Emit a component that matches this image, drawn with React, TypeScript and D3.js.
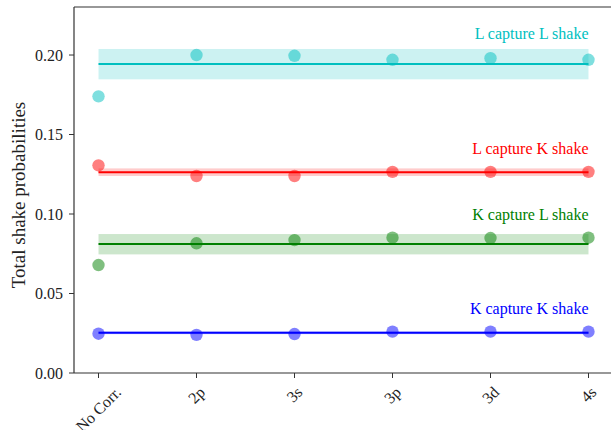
import React from "react";
import * as d3 from "d3";

const categories = ["No Corr.", "2p", "3s", "3p", "3d", "4s"];

const seriesNames = ["L capture L shake", "L capture K shake", "K capture L shake", "K capture K shake"];
const seriesColors = ["#00BFBF", "#FF0000", "#008000", "#0000FF"];
const llValues = [0.174, 0.200, 0.1995, 0.197, 0.198, 0.197];
const lkValues = [0.1306, 0.1239, 0.1239, 0.1265, 0.1265, 0.1265];
const klValues = [0.0679, 0.0816, 0.0836, 0.0851, 0.0849, 0.0851];
const kkValues = [0.0247, 0.0240, 0.0245, 0.0260, 0.0260, 0.0260];
const seriesValues = [llValues, lkValues, klValues, kkValues];
const meanValues = [0.1943, 0.1262, 0.0811, 0.0253];
const bandLow = [0.1847, 0.1239, 0.0746, 0.0244];
const bandHigh = [0.2038, 0.1287, 0.0874, 0.0262];
const labelValues = [0.2135, 0.1415, 0.0995, 0.0405];
const yTicks = [0, 0.05, 0.1, 0.15, 0.2];

function measure(text: string, size: number): number {
  try {
    const c = document.createElement("canvas").getContext("2d");
    if (c) {
      c.font = `${size}px 'Liberation Serif'`;
      return c.measureText(text).width;
    }
  } catch (e) {}
  return text.length * size * 0.45;
}

export default function App() {
  const W = 611, H = 430;
  const left = 74, right = 613, top = 7, bottom = 373;
  const x = d3.scaleLinear().domain([-0.25, 5.25]).range([left, right]);
  const y = d3.scaleLinear().domain([0, 0.2302]).range([bottom, top]);
  const font = "'Liberation Serif', 'DejaVu Serif', serif";
  const x0 = x(0), x5 = x(categories.length - 1);
  const tickFs = 16;
  const lineH = tickFs * 0.95;
  return (
    <svg width={W} height={H} style={{ position: "absolute", left: 0, top: 0, background: "#fff" }} fontFamily={font}>
      {seriesValues.map((vals, i) => (
        <g key={i}>
          <rect x={x0} width={x5 - x0} y={y(bandHigh[i])} height={y(bandLow[i]) - y(bandHigh[i])}
            fill={seriesColors[i]} fillOpacity={0.2} />
          {vals.map((v, j) => (
            <circle key={j} cx={x(j)} cy={y(v)} r={6.2} fill={seriesColors[i]} fillOpacity={0.5} />
          ))}
          <line x1={x0} x2={x5} y1={y(meanValues[i])} y2={y(meanValues[i])} stroke={seriesColors[i]} strokeWidth={2} />
          <text x={x5} y={y(labelValues[i])} textAnchor="end" dominantBaseline="central" fontSize={16} fill={seriesColors[i]}>
            {seriesNames[i]}
          </text>
        </g>
      ))}
      <line x1={left} x2={left} y1={top} y2={bottom} stroke="#333" strokeWidth={1.2} />
      <line x1={left} x2={right} y1={bottom} y2={bottom} stroke="#333" strokeWidth={1.2} />
      <line x1={left} x2={right} y1={top} y2={top} stroke="#333" strokeWidth={1.2} />
      {yTicks.map((t) => (
        <g key={t}>
          <line x1={left - 5} x2={left} y1={y(t)} y2={y(t)} stroke="#333" strokeWidth={1} />
          <text x={left - 11} y={y(t)} textAnchor="end" dominantBaseline="central" fontSize={16} fill="#222">
            {t.toFixed(2)}
          </text>
        </g>
      ))}
      {categories.map((c, j) => {
        const L = measure(c, tickFs);
        const half = (L + lineH) * Math.SQRT1_2 / 2;
        const cy = bottom + 11 + half;
        return (
          <g key={c}>
            <line x1={x(j)} x2={x(j)} y1={bottom} y2={bottom + 5} stroke="#333" strokeWidth={1} />
            <text transform={`translate(${x(j)},${cy}) rotate(-45)`} textAnchor="middle"
              dominantBaseline="central" fontSize={tickFs} fill="#222">{c}</text>
          </g>
        );
      })}
      <text transform={`translate(18,${(top + bottom) / 2 + 5}) rotate(-90)`} textAnchor="middle"
        dominantBaseline="central" fontSize={19} fill="#222">Total shake probabilities</text>
    </svg>
  );
}
